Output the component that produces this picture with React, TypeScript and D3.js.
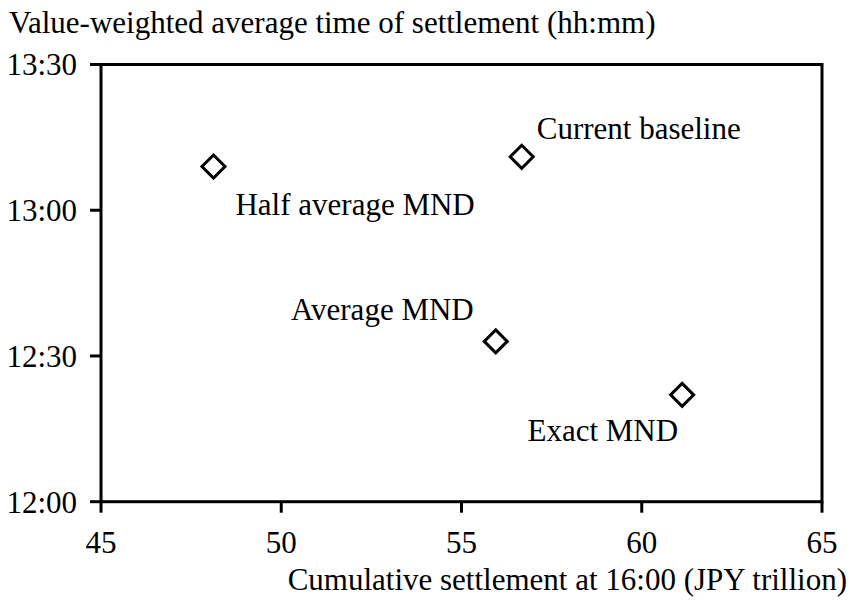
import React from "react";
import * as d3 from "d3";

const scenarios = ["Current baseline", "Half average MND", "Average MND", "Exact MND"];
const settlement = [56.67, 48.12, 55.95, 61.12];
const avgTime = ["13:11", "13:09", "12:33", "12:22"];
const xTicks = [45, 50, 55, 60, 65];
const yTickLabels = ["12:00", "12:30", "13:00", "13:30"];
// label offsets relative to marker (dx, dy), anchor
const labelPos: [number, number, string][] = [
  [15, -18, "start"],
  [22, 48, "start"],
  [-22, -21, "end"],
  [-4, 46, "end"],
];

const toMin = (s: string) => {
  const [h, m] = s.split(":").map(Number);
  return h * 60 + m;
};

export default function App() {
  const W = 851, H = 601;
  const left = 101, right = 822, top = 64.5, bottom = 501.7;
  const x = d3.scaleLinear().domain([45, 65]).range([left, right]);
  const y = d3.scaleLinear().domain([toMin("12:00"), toMin("13:30")]).range([bottom, top]);
  const font = "'Liberation Serif', 'Times New Roman', serif";
  const fs = 31;
  const r = 11.5;
  const diamond = (cx: number, cy: number) =>
    `M${cx},${cy - r}L${cx + r},${cy}L${cx},${cy + r}L${cx - r},${cy}Z`;
  return (
    <svg width={W} height={H} style={{ position: "absolute", left: 0, top: 0 }} fontFamily={font}>
      <rect x={0} y={0} width={W} height={H} fill="#fff" />
      <text x={9} y={33} fontSize={fs} fill="#000">
        Value-weighted average time of settlement (hh:mm)
      </text>
      <rect x={left} y={top} width={right - left} height={bottom - top} fill="none" stroke="#000" strokeWidth={3} />
      {yTickLabels.map((t) => (
        <g key={t}>
          <line x1={left - 11} x2={left} y1={y(toMin(t))} y2={y(toMin(t))} stroke="#000" strokeWidth={3} />
          <text x={left - 24} y={y(toMin(t))} dy="0.35em" textAnchor="end" fontSize={fs} fill="#000">
            {t}
          </text>
        </g>
      ))}
      {xTicks.map((t) => (
        <g key={t}>
          <line x1={x(t)} x2={x(t)} y1={bottom} y2={bottom + 11} stroke="#000" strokeWidth={3} />
          <text x={x(t)} y={553} textAnchor="middle" fontSize={fs} fill="#000">
            {t}
          </text>
        </g>
      ))}
      <text x={847} y={590} textAnchor="end" fontSize={fs} fill="#000">
        Cumulative settlement at 16:00 (JPY trillion)
      </text>
      {scenarios.map((s, i) => {
        const cx = x(settlement[i]);
        const cy = y(toMin(avgTime[i]));
        const [dx, dy, anchor] = labelPos[i];
        return (
          <g key={s}>
            <path d={diamond(cx, cy)} fill="#fff" stroke="#000" strokeWidth={3} strokeLinejoin="miter" />
            <text x={cx + dx} y={cy + dy} textAnchor={anchor as any} fontSize={fs} fill="#000">
              {s}
            </text>
          </g>
        );
      })}
    </svg>
  );
}
